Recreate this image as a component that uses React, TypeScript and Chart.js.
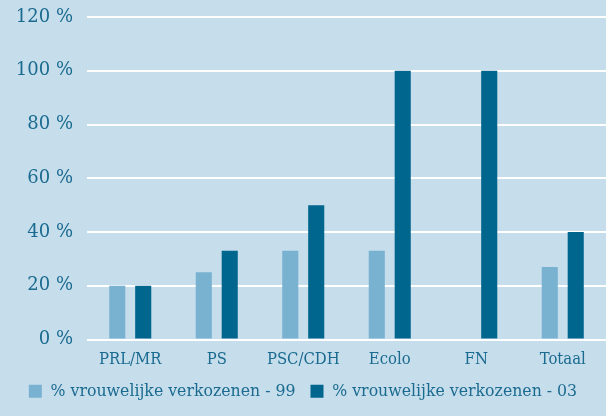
import React, { useEffect, useRef } from "react";
import { Chart, registerables } from "chart.js";

Chart.register(...registerables);

const categories = ["PRL/MR", "PS", "PSC/CDH", "Ecolo", "FN", "Totaal"];
const series99 = [20, 25, 33, 33, 0, 27];
const series03 = [20, 33, 50, 100, 100, 40];
const seriesLabels = ["% vrouwelijke verkozenen - 99", "% vrouwelijke verkozenen - 03"];

const BG = "#c6ddec";
const TEXT = "#1a6b8f";
const LIGHT = "#79b2d0";
const DARK = "#00668e";
const FONT = "'DejaVu Serif', serif";
const FONT_C = "'DejaVu Serif Condensed', 'DejaVu Serif', serif";

export default function App() {
  const ref = useRef<HTMLCanvasElement | null>(null);
  useEffect(() => {
    document.body.style.margin = "0";
    document.body.style.background = BG;
    Chart.defaults.font.family = FONT;
    const ctx = ref.current!;
    const chart = new Chart(ctx, {
      type: "bar",
      data: {
        labels: categories,
        datasets: [
          { label: seriesLabels[0], data: series99, backgroundColor: LIGHT, categoryPercentage: 0.6, barPercentage: 0.62 },
          { label: seriesLabels[1], data: series03, backgroundColor: DARK, categoryPercentage: 0.6, barPercentage: 0.62 },
        ],
      },
      options: {
        responsive: false,
        animation: false,
        font: { family: FONT },
        layout: { padding: { top: 0, right: 0, left: 0, bottom: 6 } },
        plugins: {
          tooltip: { enabled: false },
          legend: {
            position: "bottom",
            labels: {
              color: TEXT,
              font: { family: FONT_C, size: 17.5 },
              boxWidth: 13,
              boxHeight: 13,
              padding: 15,
            },
          },
        },
        scales: {
          x: {
            afterFit: (s: any) => { s.height = 28; },
            grid: { display: false, drawTicks: false },
            border: { display: false },
            ticks: { color: TEXT, font: { family: FONT_C, size: 16.5 }, padding: 10 },
          },
          y: {
            min: 0,
            max: 120,
            afterFit: (s: any) => { s.width = 87; s.paddingTop = 17; },
            grid: { color: "#ffffff", lineWidth: 2, drawTicks: false },
            border: { display: false },
            ticks: {
              stepSize: 20,
              color: TEXT,
              font: { family: FONT, size: 18 },
              padding: 14,
              callback: (v: any) => `${v} %`,
            },
          },
        },
      },
    } as any);
    return () => chart.destroy();
  }, []);
  return (
    <div style={{ width: 606, height: 416, background: BG }}>
      <canvas ref={ref} width={606} height={416} style={{ display: "block" }} />
    </div>
  );
}
